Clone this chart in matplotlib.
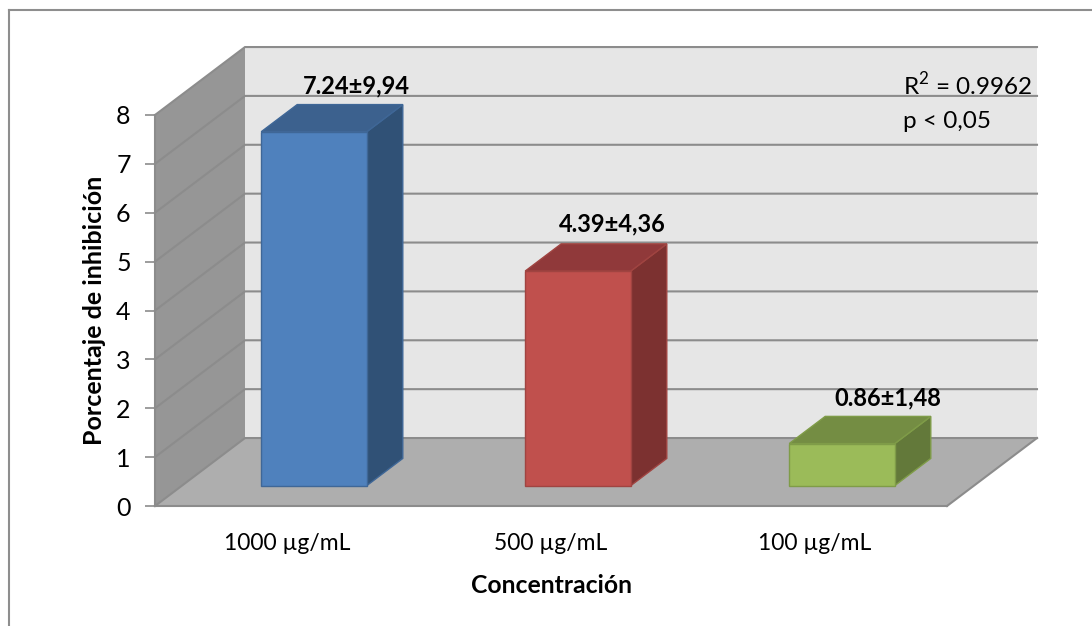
"""Oblique 3D column chart of percent inhibition by concentration."""

import matplotlib.pyplot as plt
from matplotlib.lines import Line2D
from matplotlib.patches import Polygon

WIDTH, HEIGHT = 1092, 626

concentrations = ["1000 µg/mL", "500 µg/mL", "100 µg/mL"]
inhibition = [7.24, 4.39, 0.86]
value_labels = ["7.24±9,94", "4.39±4,36", "0.86±1,48"]
y_ticks = [0, 1, 2, 3, 4, 5, 6, 7, 8]

front_colors = ["#4f81bd", "#c0504d", "#9bbb59"]
top_colors = ["#3c618e", "#90393a", "#748d43"]
side_colors = ["#305176", "#7c3130", "#63793a"]
edge_colors = ["#3f6797", "#a04441", "#7f9c48"]
label_nudges = [(6, 19), (-2, 20), (10, 18)]

plt.rcParams["font.family"] = ["Lato", "DejaVu Sans"]
plt.rcParams["mathtext.fontset"] = "custom"
plt.rcParams["mathtext.rm"] = "Lato"

fig = plt.figure(figsize=(WIDTH / 100, HEIGHT / 100), dpi=100)
ax = fig.add_axes([155 / WIDTH, 1 - 506 / HEIGHT, 792 / WIDTH, 391 / HEIGHT])
ax.set_xlim(0, 3)
ax.set_ylim(0, 8)

# one unit of depth moves a point this far back along the oblique axis
DEPTH_X = 90 / 264
DEPTH_Y = 68 / 48.9


def project(x, y, d):
    return (x + d * DEPTH_X, y + d * DEPTH_Y)


def face(points, **kwargs):
    ax.add_patch(Polygon([project(*p) for p in points], closed=True,
                         clip_on=False, **kwargs))


GRID = "#8c8c8c"
face([(0, 0, 1), (3, 0, 1), (3, 8, 1), (0, 8, 1)], facecolor="#e6e6e6",
     edgecolor="none", zorder=1)
face([(0, 0, 0), (0, 0, 1), (0, 8, 1), (0, 8, 0)], facecolor="#969696",
     edgecolor="none", zorder=1)
face([(0, 0, 0), (3, 0, 0), (3, 0, 1), (0, 0, 1)], facecolor="#aeaeae",
     edgecolor="none", zorder=1)

# gridlines run along the side wall and across the back wall
for tick in y_ticks:
    xs, ys = zip(project(0, tick, 0), project(0, tick, 1), project(3, tick, 1))
    ax.plot(xs, ys, color=GRID, lw=1.5, zorder=2, clip_on=False,
            solid_joinstyle="miter")
xs, ys = zip(project(3, 0, 0), project(3, 0, 1))
ax.plot(xs, ys, color=GRID, lw=1.5, zorder=2, clip_on=False)

BAR_WIDTH = 0.4
D_FRONT, D_BACK = 0.30, 0.70
for i, value in enumerate(inhibition):
    left = i + 0.5 - BAR_WIDTH / 2
    right = i + 0.5 + BAR_WIDTH / 2
    style = dict(edgecolor=edge_colors[i], linewidth=1, zorder=3)
    face([(right, 0, D_FRONT), (right, 0, D_BACK), (right, value, D_BACK),
          (right, value, D_FRONT)], facecolor=side_colors[i], **style)
    face([(left, value, D_FRONT), (right, value, D_FRONT),
          (right, value, D_BACK), (left, value, D_BACK)],
         facecolor=top_colors[i], **style)
    face([(left, 0, D_FRONT), (right, 0, D_FRONT), (right, value, D_FRONT),
          (left, value, D_FRONT)], facecolor=front_colors[i], **style)
    lx, ly = project(i + 0.5, value, D_BACK)
    ax.annotate(value_labels[i], (lx, ly), xytext=label_nudges[i],
                textcoords="offset pixels", ha="center", va="center",
                fontsize=17, fontweight="bold", zorder=5, color="black",
                annotation_clip=False)

ax.text(2.833, 8.61, "R$^{2}$ = 0.9962", fontsize=17.5, va="center", ha="left",
        zorder=5)
ax.text(2.833, 7.87, "p < 0,05", fontsize=17.5, va="center", ha="left",
        zorder=5)

for side in ["top", "right"]:
    ax.spines[side].set_visible(False)
for side in ["left", "bottom"]:
    ax.spines[side].set_color(GRID)
    ax.spines[side].set_linewidth(1.5)
    ax.spines[side].set_zorder(2)
ax.patch.set_visible(False)

ax.set_yticks(y_ticks)
ax.set_xticks([0.5, 1.5, 2.5], concentrations)
ax.tick_params(axis="y", length=7, width=1.2, color=GRID, labelsize=18, pad=10.5)
ax.tick_params(axis="x", length=0, labelsize=16.5, pad=19.5)
ax.set_xlabel("Concentración", fontsize=17.8, fontweight="bold", labelpad=14)
ax.set_ylabel("Porcentaje de inhibición", fontsize=18, fontweight="bold",
              labelpad=7.5)

# chart frame: only the top and left edges fall inside the canvas
fx, fy = 8.5 / WIDTH, 1 - 9.5 / HEIGHT
fig.add_artist(Line2D([fx, fx], [0, fy], color="#8e8e8e", lw=1.5))
fig.add_artist(Line2D([fx, 1], [fy, fy], color="#8e8e8e", lw=1.5))

fig.savefig("out.png", dpi=100)
